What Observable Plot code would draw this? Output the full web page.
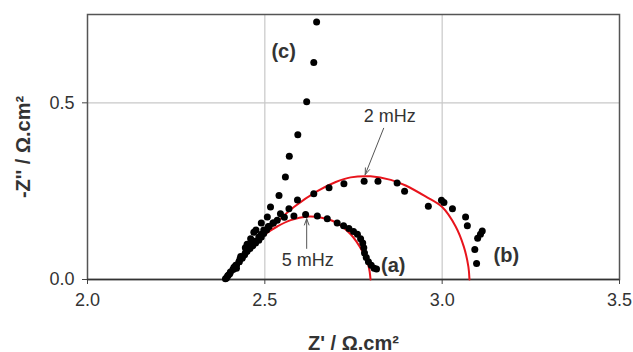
<!DOCTYPE html>
<html>
<head>
<meta charset="utf-8">
<script src="https://cdn.jsdelivr.net/npm/d3@7"></script>
<script src="https://cdn.jsdelivr.net/npm/@observablehq/plot@0.6"></script>
<style>
  html, body { margin: 0; padding: 0; background: #fff; }
  #chart svg { display: block; }
</style>
</head>
<body>
<div id="chart"></div>
<script>
// Series (a)
const aX = [2.389,2.397,2.403,2.412,2.420,2.428,2.436,2.443,2.450,2.458,2.466,2.474,2.483,2.490,2.497,2.505,2.512,2.524,2.535,2.555,2.582,2.615,2.648,2.676,2.704,2.722,2.737,2.750,2.761,2.770,2.776,2.779,2.781,2.786,2.792,2.800,2.808,2.815];
const aY = [0.002,0.012,0.021,0.030,0.040,0.050,0.060,0.070,0.080,0.088,0.095,0.103,0.111,0.120,0.130,0.140,0.150,0.160,0.168,0.176,0.180,0.184,0.180,0.172,0.160,0.152,0.144,0.136,0.128,0.115,0.103,0.090,0.075,0.062,0.050,0.040,0.032,0.030];
// Series (b)
const bX = [2.392,2.401,2.410,2.418,2.427,2.436,2.445,2.453,2.462,2.472,2.483,2.490,2.497,2.510,2.523,2.544,2.568,2.592,2.638,2.681,2.723,2.780,2.819,2.873,2.894,2.961,2.998,3.005,3.029,3.066,3.071,3.113,3.108,3.100,3.092,3.097];
const bY = [0.004,0.016,0.028,0.040,0.050,0.062,0.075,0.086,0.098,0.108,0.120,0.128,0.140,0.150,0.160,0.186,0.200,0.225,0.243,0.260,0.271,0.278,0.278,0.273,0.250,0.207,0.224,0.218,0.200,0.177,0.152,0.137,0.128,0.117,0.085,0.045];
// Series (c)
const cX = [2.646,2.638,2.618,2.593,2.569,2.558,2.540,2.516,2.507,2.490,2.475,2.469,2.460,2.450,2.445,2.432,2.430,2.420,2.413,2.395];
const cY = [0.729,0.614,0.503,0.410,0.349,0.290,0.238,0.205,0.177,0.160,0.140,0.134,0.115,0.100,0.090,0.065,0.058,0.032,0.035,0.010];
// Fitted curves (red)
const fitAX = [2.389,2.422,2.460,2.500,2.535,2.573,2.620,2.660,2.700,2.742,2.775,2.792,2.798];
const fitAY = [0.000,0.050,0.095,0.128,0.150,0.168,0.178,0.175,0.162,0.128,0.080,0.040,0.000];
const fitBX = [2.389,2.422,2.460,2.500,2.540,2.582,2.648,2.700,2.742,2.798,2.855,2.897,2.953,3.000,3.038,3.061,3.074,3.077];
const fitBY = [0.000,0.050,0.095,0.132,0.168,0.205,0.250,0.276,0.289,0.292,0.282,0.266,0.235,0.205,0.150,0.093,0.036,0.000];
// Ticks
const xTicks = [2.0, 2.5, 3.0, 3.5];
const yTicks = [0.0, 0.5];
// Labels
const seriesLabels = ["(a)", "(b)", "(c)"];
const seriesLabelX = [2.862, 3.181, 2.553];
const seriesLabelY = [0.040, 0.068, 0.645];
const freqLabels = ["2 mHz", "5 mHz"];
const freqLabelX = [2.852, 2.621];
const freqLabelY = [0.462, 0.055];
const arrowX1 = [2.835, 2.618];
const arrowY1 = [0.428, 0.088];
const arrowX2 = [2.783, 2.618];
const arrowY2 = [0.297, 0.172];

const zip = (xs, ys) => xs.map((x, i) => ({x, y: ys[i]}));
const pts = [...zip(aX, aY), ...zip(bX, bY), ...zip(cX, cY)];
const fitA = zip(fitAX, fitAY);
const fitB = zip(fitBX, fitBY);
const sLabels = seriesLabels.map((t, i) => ({t, x: seriesLabelX[i], y: seriesLabelY[i]}));
const fLabels = freqLabels.map((t, i) => ({t, x: freqLabelX[i], y: freqLabelY[i]}));
const arrows = arrowX1.map((x1, i) => ({x1, y1: arrowY1[i], x2: arrowX2[i], y2: arrowY2[i]}));

const font = "Liberation Sans, Arial, sans-serif";

const chart = Plot.plot({
  width: 633,
  height: 352,
  marginLeft: 87,
  marginRight: 14,
  marginTop: 14,
  marginBottom: 73,
  style: {fontFamily: font, fontSize: "18px", color: "#333", background: "#fff"},
  x: {domain: [2.0, 3.5]},
  y: {domain: [0, 0.75]},
  marks: [
    Plot.gridX(xTicks.slice(1, 3), {stroke: "#c8c8c8", strokeOpacity: 1, strokeWidth: 1.2}),
    Plot.gridY(yTicks.slice(1), {stroke: "#c8c8c8", strokeOpacity: 1, strokeWidth: 1.2}),
    Plot.frame({stroke: "#555", strokeWidth: 1.5}),
    Plot.axisX({ticks: xTicks, tickFormat: d3.format(".1f"), tickSize: 5, tickPadding: 9, label: null, stroke: "#444", fill: "#333", fontSize: 18}),
    Plot.axisY({ticks: yTicks, tickFormat: d3.format(".1f"), tickSize: 5, tickPadding: 8, label: null, stroke: "#444", fill: "#333", fontSize: 18}),
    Plot.ruleY([0], {stroke: "#333", strokeWidth: 1.5}),
    Plot.line(fitB, {x: "x", y: "y", stroke: "#e8141c", strokeWidth: 2, curve: "catmull-rom"}),
    Plot.line(fitA, {x: "x", y: "y", stroke: "#e8141c", strokeWidth: 2, curve: "catmull-rom"}),
    Plot.dot(pts, {x: "x", y: "y", r: 3.5, fill: "#000", stroke: "none"}),
    Plot.arrow(arrows, {x1: "x1", y1: "y1", x2: "x2", y2: "y2", stroke: "#555", strokeWidth: 1, headLength: 10, headAngle: 40}),
    Plot.text(sLabels, {x: "x", y: "y", text: "t", fontSize: 20, fontWeight: "bold", fill: "#333"}),
    Plot.text(fLabels, {x: "x", y: "y", text: "t", fontSize: 18, fill: "#333"}),
    Plot.text(["Z' / Ω.cm²"], {frameAnchor: "bottom", lineAnchor: "bottom", dy: 70, fontSize: 20, fontWeight: "bold", fill: "#333"}),
    Plot.text(["-Z'' / Ω.cm²"], {frameAnchor: "left", textAnchor: "middle", lineAnchor: "middle", dx: -64, rotate: -90, fontSize: 20, fontWeight: "bold", fill: "#333"})
  ]
});
document.getElementById("chart").append(chart);
</script>
</body>
</html>
